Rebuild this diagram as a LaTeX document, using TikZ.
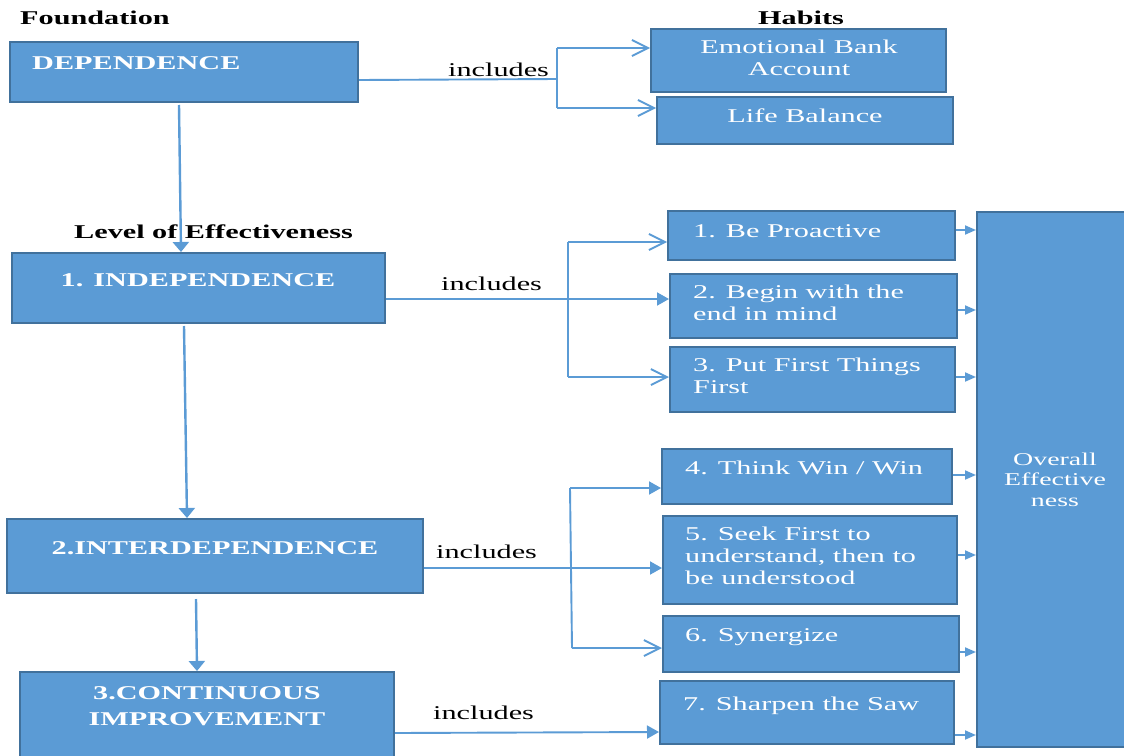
\documentclass[tikz,border=0pt]{standalone}
\usepackage{fontspec}
\setmainfont{Liberation Serif}[FakeStretch=1.55]
\usetikzlibrary{arrows.meta,fit}
\definecolor{boxblue}{HTML}{5B9BD5}
\definecolor{boxedge}{HTML}{41719C}
\begin{document}
\begin{tikzpicture}[x=1pt,y=-1pt,
  box/.style={draw=boxedge, line width=2pt, fill=boxblue, inner sep=0pt},
  wt/.style={text=white, inner sep=0pt, font=\fontsize{19.5}{22}\selectfont, align=left},
  wtb/.style={text=white, inner sep=0pt, font=\bfseries\fontsize{19.5}{26}\selectfont, align=center},
  ovt/.style={text=white, inner sep=0pt, font=\fontsize{18}{20.5}\selectfont, align=center},
  head/.style={inner sep=0pt, font=\bfseries\fontsize{19.5}{22}\selectfont},
  inc/.style={inner sep=0pt, font=\fontsize{19.5}{22}\selectfont},
  conn/.style={draw=boxblue, line width=1.9pt},
  fa/.style={conn, -{Triangle[length=12pt,width=13pt]}},
  va/.style={conn, line width=2.4pt, -{Triangle[length=10pt,width=16pt]}},
  sa/.style={conn, -{Triangle[length=11pt,width=9pt]}},
  oa/.style={conn, -{Straight Barb[length=16pt,width=16pt]}},
]
\useasboundingbox (0,0) rectangle (1124,755);
\clip (0,0) rectangle (1124,755);

% boxes
\node[box, fit={(10,42)(358,102)}] (dep) {};
\node[box, fit={(651,29)(946,92)}] (eba) {};
\node[box, fit={(657,97)(953,144)}] (lb) {};
\node[box, fit={(12,253)(385,323)}] (ind) {};
\node[box, fit={(668,211)(955,260)}] (h1) {};
\node[box, fit={(670,274)(957,338)}] (h2) {};
\node[box, fit={(670,347)(955,412)}] (h3) {};
\node[box, fit={(662,449)(952,504)}] (h4) {};
\node[box, fit={(663,516)(957,604)}] (h5) {};
\node[box, fit={(663,616)(959,672)}] (h6) {};
\node[box, fit={(660,681)(954,744)}] (h7) {};
\node[box, fit={(7,519)(423,593)}] (inter) {};
\node[box, fit={(20,672)(394,765)}] (cont) {};
\node[box, fit={(977,212)(1130,747)}] (ov) {};

% headings
\node[head, anchor=base west] (hF) at (20,24) {Foundation};
\node[head, anchor=base west] (hH) at (758,24) {Habits};
\node[head, anchor=base west] (hL) at (74,238) {Level of Effectiveness};

% texts in boxes (multi-line texts anchored at the last line's baseline)
\node[wtb, anchor=base west] (depT) at (32,69) {DEPENDENCE};
\node[wt, anchor=base, align=center] (ebaT) at (799,75) {Emotional Bank\\Account};
\node[wt, anchor=base] (lbT) at (805,122) {Life Balance};
\node[wtb, anchor=base] (indT) at (198,286) {1. INDEPENDENCE};
\node[wtb, anchor=base] (interT) at (215,554) {2.INTERDEPENDENCE};
\node[wtb, anchor=base] (contT) at (207,725) {3.CONTINUOUS\\IMPROVEMENT};
\node[wt, anchor=base west] (h1T) at (693,237) {1. Be Proactive};
\node[wt, anchor=base west] (h2T) at (693,320) {2. Begin with the\\end in mind};
\node[wt, anchor=base west] (h3T) at (693,393) {3. Put First Things\\First};
\node[wt, anchor=base west] (h4T) at (685,474) {4. Think Win / Win};
\node[wt, anchor=base west] (h5T) at (685,584) {5. Seek First to\\understand, then to\\be understood};
\node[wt, anchor=base west] (h6T) at (685,641) {6. Synergize};
\node[wt, anchor=base west] (h7T) at (683,710) {7. Sharpen the Saw};
\node[ovt, anchor=base] (ovT) at (1055,506) {Overall\\Effective\\ness};

% includes labels
\node[inc, anchor=base west] (inc1) at (448,76) {includes};
\node[inc, anchor=base west] (inc2) at (441,290) {includes};
\node[inc, anchor=base west] (inc3) at (436,558) {includes};
\node[inc, anchor=base west] (inc4) at (433,719) {includes};

% dependence branches
\coordinate (d1) at (557,79);
\coordinate (d1t) at (557,48);
\coordinate (d1b) at (557,108);
\draw[conn] ([yshift=-8pt]dep.east) -- (d1);
\draw[conn] (d1t) -- (d1b);
\draw[oa] (d1t) -- (eba.west |- d1t);
\draw[oa] (d1b) -- (lb.west |- d1b);

% independence branches
\coordinate (i1) at (568,299);
\coordinate (i1t) at (568,242);
\coordinate (i1b) at (568,377);
\draw[fa] ([yshift=-11pt]ind.east) -- (h2.west |- i1);
\draw[conn] (i1t) -- (i1b);
\draw[oa] (i1t) -- (h1.west |- i1t);
\draw[oa] (i1b) -- (h3.west |- i1b);

% interdependence branches
\coordinate (n1) at (571,568);
\coordinate (n1t) at (570,488);
\coordinate (n1b) at (572,648);
\draw[fa] ([yshift=-12pt]inter.east) -- (h5.west |- n1);
\draw[conn] (n1t) -- (n1b);
\draw[fa] (n1t) -- (h4.west |- n1t);
\draw[oa] (n1b) -- (h6.west |- n1b);

% continuous improvement
\coordinate (c1) at (500,732);
\draw[fa] ([yshift=-14.5pt]cont.east) -- (h7.west |- c1);

% vertical flow
\draw[va] ([xshift=-5pt,yshift=-2pt]dep.south) -- ([xshift=-17.5pt]ind.north);
\draw[va] ([xshift=-14.5pt,yshift=-2pt]ind.south) -- ([xshift=-28pt]inter.north);
\draw[va] ([xshift=-19pt,yshift=-5pt]inter.south) -- ([xshift=-10pt]cont.north);

% arrows into overall
\draw[sa] ([yshift=5.5pt]h1.east) coordinate (p1) -- (p1 -| ov.west);
\draw[sa] ([yshift=-4pt]h2.east) coordinate (p2) -- (p2 -| ov.west);
\draw[sa] ([yshift=2.5pt]h3.east) coordinate (p3) -- (p3 -| ov.west);
\draw[sa] ([yshift=1.5pt]h4.east) coordinate (p4) -- (p4 -| ov.west);
\draw[sa] ([yshift=5pt]h5.east) coordinate (p5) -- (p5 -| ov.west);
\draw[sa] ([yshift=-8pt]h6.east) coordinate (p6) -- (p6 -| ov.west);
\draw[sa] ([yshift=-22.5pt]h7.east) coordinate (p7) -- (p7 -| ov.west);
\end{tikzpicture}
\end{document}
